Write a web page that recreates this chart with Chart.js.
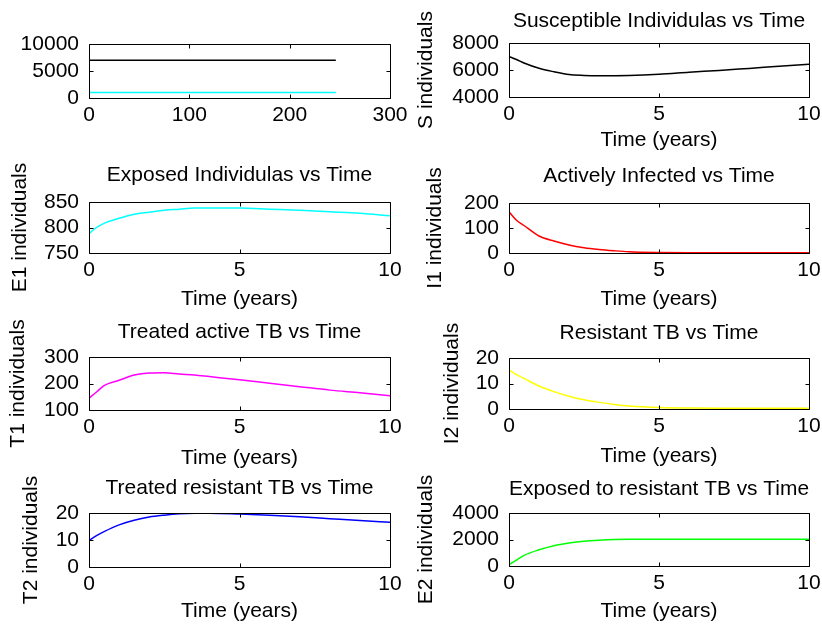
<!DOCTYPE html>
<html>
<head>
<meta charset="utf-8">
<script src="https://cdn.jsdelivr.net/npm/chart.js@4/dist/chart.umd.min.js"></script>
<style>
  body { margin: 0; background: #fff; }
  #fig { position: relative; width: 822px; height: 630px; overflow: hidden; background: #fff; }
  #fig canvas { position: absolute; }
</style>
</head>
<body>
<div id="fig"></div>
<script>
// values
const timeYears   = [0, 0.25, 0.5, 1, 1.5, 2, 2.5, 3, 3.5, 4, 5, 6, 7, 8, 9, 10];
const susceptible = [7000, 6780, 6520, 6130, 5870, 5660, 5600, 5580, 5580, 5590, 5680, 5830, 5970, 6120, 6270, 6420];
const exposed1    = [788, 800, 808, 818, 826, 830, 834, 836, 838, 838, 838, 836, 834, 831, 828, 823];
const infected1   = [165, 131, 110, 68, 48, 32, 21, 14, 9, 5, 2, 1, 1, 1, 1, 1];
const treated1    = [145, 168, 192, 212, 232, 240, 241, 236, 232, 226, 214, 201, 188, 175, 165, 154];
const infected2   = [15.2, 13.5, 12, 9, 6.8, 5, 3.6, 2.6, 1.8, 1.2, 0.6, 0.4, 0.3, 0.3, 0.3, 0.3];
const treated2    = [9.8, 11.6, 13.1, 15.6, 17.3, 18.5, 19.2, 19.7, 19.9, 19.9, 19.6, 19.2, 18.6, 17.9, 17.2, 16.6];
const exposed2    = [100, 450, 800, 1220, 1530, 1730, 1870, 1950, 2000, 2010, 2010, 2010, 2010, 2010, 2010, 2010];

// first (overview) subplot
const overviewTime = [0, 246];
const overviewS    = [7000, 7000];
const overviewE1   = [1000, 1000];

const xTicksYears    = [0, 5, 10];
const xTicksOverview = [0, 100, 200, 300];

const FONT = { family: "'Liberation Sans', Arial, sans-serif", size: 21 };

// subplot layout: box = [left, top, right, bottom] of the axes in page pixels
const panels = [
  { col: 0, box: [89, 44, 390, 98], x: [0, 300], xt: xTicksOverview, y: [0, 10000, 5000],
    lines: [[overviewTime, overviewS, '#000000'], [overviewTime, overviewE1, '#00ffff']] },
  { col: 1, box: [509, 43, 809, 97], title: 'Susceptible Individulas vs Time', tGap: 21.5, xGap: 43,
    ylabel: 'S individuals', yLabX: 426, x: [0, 10], xt: xTicksYears, y: [4000, 8000, 2000],
    lines: [[timeYears, susceptible, '#000000']] },
  { col: 0, box: [89, 202, 390, 253], title: 'Exposed Individulas vs Time', tGap: 26.5, xGap: 46.5,
    ylabel: 'E1 individuals', yLabX: 20, x: [0, 10], xt: xTicksYears, y: [750, 850, 50],
    lines: [[timeYears, exposed1, '#00ffff']] },
  { col: 1, box: [509, 203, 809, 253], title: 'Actively Infected vs Time', tGap: 26.5, xGap: 46.5,
    ylabel: 'I1 individuals', yLabX: 435, x: [0, 10], xt: xTicksYears, y: [0, 200, 100],
    lines: [[timeYears, infected1, '#ff0000']] },
  { col: 0, box: [89, 357, 390, 410], title: 'Treated active TB vs Time', tGap: 24.5, xGap: 48,
    ylabel: 'T1 individuals', yLabX: 18.5, x: [0, 10], xt: xTicksYears, y: [100, 300, 100],
    lines: [[timeYears, treated1, '#ff00ff']] },
  { col: 1, box: [509, 358, 809, 409], title: 'Resistant TB vs Time', tGap: 24.5, xGap: 47,
    ylabel: 'I2 individuals', yLabX: 452, x: [0, 10], xt: xTicksYears, y: [0, 20, 10],
    lines: [[timeYears, infected2, '#ffff00']] },
  { col: 0, box: [89, 513, 390, 567], title: 'Treated resistant TB vs Time', tGap: 24.5, xGap: 44.7,
    ylabel: 'T2 individuals', yLabX: 31.7, x: [0, 10], xt: xTicksYears, y: [0, 20, 10],
    lines: [[timeYears, treated2, '#0000ff']] },
  { col: 1, box: [509, 513, 809, 566], title: 'Exposed to resistant TB vs Time', tGap: 23.5, xGap: 45.5,
    ylabel: 'E2 individuals', yLabX: 426, x: [0, 10], xt: xTicksYears, y: [0, 4000, 2000],
    lines: [[timeYears, exposed2, '#00ff00']] }
];

// box round the axes with small inward ticks, like matlab
const matlabAxes = {
  id: 'matlabAxes',
  afterDatasetsDraw(chart) {
    const { ctx, chartArea: a, scales: { x, y } } = chart;
    const L = Math.round(a.left) + 0.5, R = Math.round(a.right) + 0.5;
    const T = Math.round(a.top) + 0.5, B = Math.round(a.bottom) + 0.5;
    ctx.save();
    ctx.strokeStyle = '#000';
    ctx.lineWidth = 1;
    ctx.beginPath();
    ctx.rect(L, T, R - L, B - T);
    x.ticks.forEach(t => {
      const px = Math.round(x.getPixelForValue(t.value)) + 0.5;
      ctx.moveTo(px, B); ctx.lineTo(px, B - 4);
      ctx.moveTo(px, T); ctx.lineTo(px, T + 4);
    });
    y.ticks.forEach(t => {
      const py = Math.round(y.getPixelForValue(t.value)) + 0.5;
      ctx.moveTo(L, py); ctx.lineTo(L + 4, py);
      ctx.moveTo(R, py); ctx.lineTo(R - 4, py);
    });
    ctx.stroke();
    ctx.restore();
  }
};

const fig = document.getElementById('fig');
const LH = FONT.size * 1.2;

panels.forEach(p => {
  const [l, t, r, b] = p.box;
  const cx = p.col === 0 ? 0 : 411;
  const padRight = p.col === 0 ? 24 : 13;
  const titleBlock = p.title ? LH + (p.tGap - LH / 2) : 0;
  const cy = Math.floor(t - 14 - titleBlock);
  const padTop = t - titleBlock - cy;
  const xH = p.xGap ? p.xGap + LH / 2 : 30;
  const ch = Math.ceil(b + xH - cy);
  const padBottom = ch - (b + xH - cy);
  const cw = r - cx + padRight;

  const canvas = document.createElement('canvas');
  canvas.width = cw;
  canvas.height = ch;
  canvas.style.left = cx + 'px';
  canvas.style.top = cy + 'px';
  canvas.style.width = cw + 'px';
  canvas.style.height = ch + 'px';
  fig.appendChild(canvas);

  const fixX = s => { s.height = xH; s.paddingLeft = 0; s.paddingRight = 0; };
  const fixY = s => { s.width = l - cx; s.paddingTop = 0; s.paddingBottom = 0; };
  const yTicks = [p.y[0], (p.y[0] + p.y[1]) / 2, p.y[1]];

  new Chart(canvas.getContext('2d'), {
    type: 'line',
    data: {
      datasets: p.lines.map(([xs, ys, color]) => ({
        data: xs.map((v, i) => ({ x: v, y: ys[i] })),
        borderColor: color,
        borderWidth: 1.5,
        pointRadius: 0,
        cubicInterpolationMode: 'monotone'
      }))
    },
    options: {
      responsive: false,
      animation: false,
      devicePixelRatio: 1,
      layout: { padding: { top: padTop, right: padRight, bottom: padBottom, left: 0 } },
      scales: {
        x: {
          type: 'linear',
          min: p.x[0], max: p.x[1],
          afterBuildTicks: s => { s.ticks = p.xt.map(v => ({ value: v })); },
          grid: { display: false, drawTicks: false },
          border: { display: false },
          ticks: { padding: 4.5, color: '#000', font: FONT, maxRotation: 0, autoSkip: false, callback: v => String(v) },
          title: { display: !!p.xGap, text: 'Time (years)', color: '#000', font: FONT, padding: { top: 0, bottom: 0 } },
          afterFit: fixX
        },
        y: {
          type: 'linear',
          min: p.y[0], max: p.y[1],
          afterBuildTicks: s => { s.ticks = yTicks.map(v => ({ value: v })); },
          grid: { display: false, drawTicks: false },
          border: { display: false },
          ticks: { padding: 10, color: '#000', font: FONT, autoSkip: false, callback: v => String(v) },
          title: { display: !!p.ylabel, text: p.ylabel || '', color: '#000', font: FONT,
                   padding: { top: p.ylabel ? p.yLabX - cx - LH / 2 : 0, bottom: 0 } },
          afterFit: fixY
        }
      },
      plugins: {
        legend: { display: false },
        tooltip: { enabled: false },
        title: {
          display: !!p.title,
          text: p.title || '',
          fullSize: false,
          color: '#000',
          font: { family: FONT.family, size: FONT.size, weight: 'normal' },
          padding: { top: 0, bottom: p.title ? p.tGap - LH / 2 : 0 }
        }
      }
    },
    plugins: [matlabAxes]
  });
});
</script>
</body>
</html>
